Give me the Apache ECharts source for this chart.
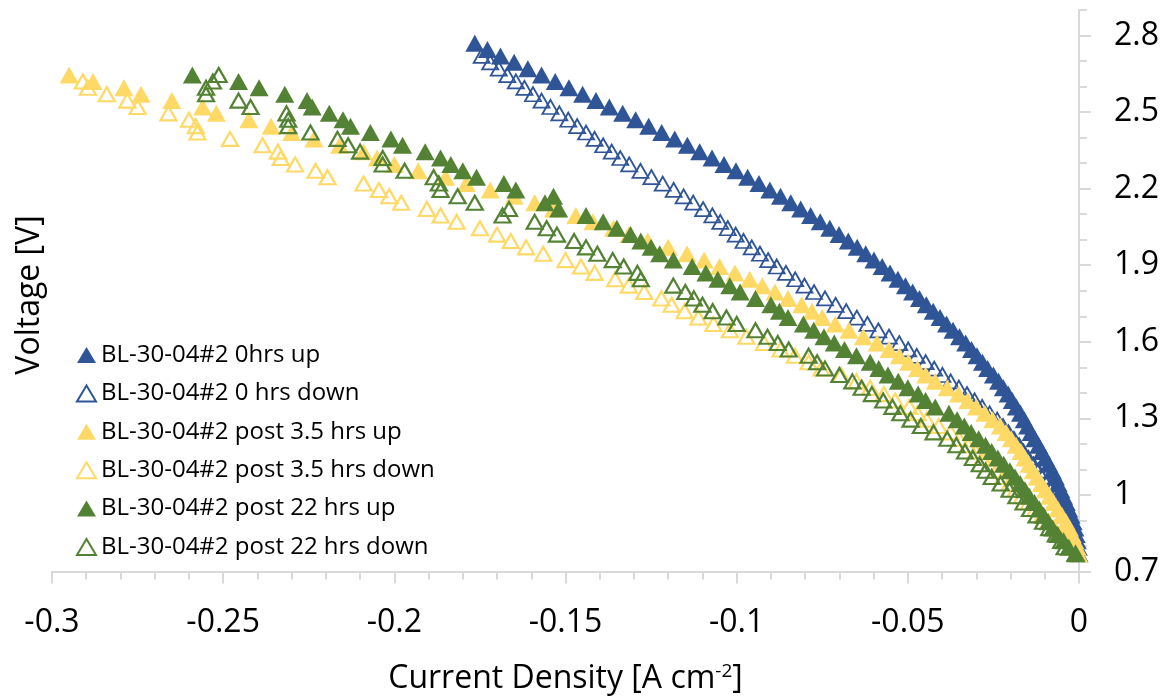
<!DOCTYPE html>
<html>
<head>
<meta charset="utf-8">
<script src="https://cdn.jsdelivr.net/npm/echarts@6.0.0/dist/echarts.min.js"></script>
<style>
html, body { margin: 0; padding: 0; background: #fff; }
#chart1 { width: 1169px; height: 700px; }
</style>
</head>
<body>
<div id="chart1"></div>
<script>
// voltage steps of the sweeps (V), shared by all series
var voltGrid = [0.770, 0.795, 0.820, 0.845, 0.870, 0.895, 0.920, 0.945, 0.970, 0.995,
	1.020, 1.045, 1.070, 1.095, 1.120, 1.145, 1.170, 1.195, 1.220, 1.245,
	1.270, 1.295, 1.320, 1.345, 1.370, 1.395, 1.420, 1.445, 1.470, 1.495,
	1.520, 1.545, 1.570, 1.595, 1.620, 1.645, 1.670, 1.695, 1.720, 1.745,
	1.770, 1.795, 1.820, 1.845, 1.870, 1.895, 1.920, 1.945, 1.970, 1.995,
	2.020, 2.045, 2.070, 2.095, 2.120, 2.145, 2.170, 2.195, 2.220, 2.245,
	2.270, 2.295, 2.320, 2.345, 2.370, 2.395, 2.420, 2.445, 2.470, 2.495,
	2.520, 2.545, 2.570, 2.595, 2.620, 2.645, 2.670, 2.695, 2.720, 2.745, 2.770];

// current density (A cm-2), one value per voltage step
var hr0Up = [-0.0000, -0.0002, -0.0005, -0.0008, -0.0012, -0.0017, -0.0023, -0.0030, -0.0037, -0.0045,
	-0.0053, -0.0061, -0.0069, -0.0078, -0.0088, -0.0098, -0.0108, -0.0118, -0.0129, -0.0140,
	-0.0150, -0.0160, -0.0171, -0.0183, -0.0195, -0.0207, -0.0221, -0.0235, -0.0250, -0.0267,
	-0.0282, -0.0298, -0.0314, -0.0331, -0.0349, -0.0368, -0.0387, -0.0406, -0.0426, -0.0446,
	-0.0466, -0.0486, -0.0507, -0.0529, -0.0552, -0.0575, -0.0599, -0.0623, -0.0648, -0.0674,
	-0.0701, -0.0728, -0.0756, -0.0784, -0.0813, -0.0842, -0.0872, -0.0903, -0.0935, -0.0968,
	-0.1002, -0.1037, -0.1072, -0.1108, -0.1144, -0.1181, -0.1219, -0.1257, -0.1295, -0.1333,
	-0.1372, -0.1411, -0.1450, -0.1490, -0.1530, -0.1570, -0.1610, -0.1650, -0.1690, -0.1728, -0.1765];

var hr0Down = [-0.0002, -0.0007, -0.0013, -0.0019, -0.0025, -0.0032, -0.0040, -0.0049, -0.0058, -0.0070,
	-0.0082, -0.0095, -0.0107, -0.0119, -0.0133, -0.0148, -0.0162, -0.0175, -0.0190, -0.0206,
	-0.0222, -0.0239, -0.0261, -0.0283, -0.0305, -0.0327, -0.0351, -0.0375, -0.0399, -0.0423,
	-0.0448, -0.0474, -0.0499, -0.0525, -0.0555, -0.0586, -0.0618, -0.0649, -0.0680, -0.0711,
	-0.0742, -0.0774, -0.0802, -0.0829, -0.0856, -0.0883, -0.0908, -0.0932, -0.0956, -0.0980,
	-0.1003, -0.1026, -0.1048, -0.1071, -0.1098, -0.1127, -0.1155, -0.1184, -0.1216, -0.1249,
	-0.1281, -0.1314, -0.1340, -0.1365, -0.1390, -0.1415, -0.1440, -0.1466, -0.1492, -0.1518,
	-0.1544, -0.1570, -0.1595, -0.1620, -0.1645, -0.1670, -0.1695, -0.1720, -0.1745];

var hr35Up = [-0.0001, -0.0005, -0.0012, -0.0020, -0.0028, -0.0038, -0.0050, -0.0062, -0.0074, -0.0086,
	-0.0098, -0.0110, -0.0122, -0.0134, -0.0146, -0.0158, -0.0170, -0.0184, -0.0198, -0.0213,
	-0.0230, -0.0252, -0.0275, -0.0300, -0.0325, -0.0352, -0.0385, -0.0420, -0.0448, -0.0472,
	-0.0498, -0.0525, -0.0555, -0.0590, -0.0630, -0.0672, -0.0712, -0.0750, -0.0780, -0.0810,
	-0.0850, -0.0888, -0.0925, -0.0962, -0.1005, -0.1050, -0.1095, -0.1145, -0.1200, -0.1260,
	-0.1315, -0.1360, -0.1420, -0.1470, -0.1535, -0.1590, -0.1650, -0.1720, -0.1790, -0.1850,
	-0.1930, -0.2000, -0.2050, -0.2090, -0.2160, -0.2235, -0.2300, -0.2360, -0.2425, -0.2520,
	-0.2560, -0.2650, -0.2740, -0.2790, -0.2880, -0.2950];

var hr35Down = [-0.0010, -0.0025, -0.0040, -0.0055, -0.0072, -0.0090, -0.0108, -0.0127, -0.0147, -0.0167,
	-0.0185, -0.0203, -0.0222, -0.0242, -0.0262, -0.0282, -0.0302, -0.0325, -0.0350, -0.0375,
	-0.0410, -0.0445, -0.0472, -0.0496, -0.0537, -0.0570, -0.0610, -0.0650, -0.0695, -0.0752,
	-0.0790, -0.0830, -0.0872, -0.0920, -0.0972, -0.1020, -0.1068, -0.1112, -0.1152, -0.1190,
	-0.1220, -0.1270, -0.1315, -0.1355, -0.1415, -0.1455, -0.1500, -0.1565, -0.1615, -0.1660,
	-0.1700, -0.1750, -0.1818, -0.1865, -0.1905, -0.1980, -0.2015, -0.2045, -0.2090, -0.2195,
	-0.2230, -0.2290, -0.2332, -0.2340, -0.2385, -0.2480, -0.2575, -0.2580, -0.2600, -0.2660,
	-0.2750, -0.2780, -0.2840, -0.2895, -0.2910];

var hr22Up = [-0.0010, -0.0030, -0.0045, -0.0062, -0.0077, -0.0090, -0.0103, -0.0116, -0.0130, -0.0145,
	-0.0158, -0.0172, -0.0187, -0.0202, -0.0220, -0.0237, -0.0255, -0.0273, -0.0293, -0.0315,
	-0.0335, -0.0356, -0.0380, -0.0420, -0.0448, -0.0470, -0.0500, -0.0528, -0.0558, -0.0585,
	-0.0610, -0.0650, -0.0685, -0.0715, -0.0745, -0.0775, -0.0805, -0.0850, -0.0875, -0.0900,
	-0.0945, -0.0990, -0.1020, -0.1055, -0.1090, -0.1130, -0.1185, -0.1225, -0.1250, -0.1280,
	-0.1310, -0.1350, -0.1390, -0.1440, -0.1520, -0.1560, -0.1535, -0.1645, -0.1680, -0.1760,
	-0.1800, -0.1835, -0.1865, -0.1910, -0.1976, -0.2010, -0.2070, -0.2128, -0.2150, -0.2190,
	-0.2240, -0.2255, -0.2320, -0.2395, -0.2455, -0.2590];

var hr22Down = [-0.0010, -0.0042, -0.0052, -0.0068, -0.0087, -0.0105, -0.0124, -0.0143, -0.0162, -0.0183,
	-0.0203, -0.0229, -0.0255, -0.0273, -0.0290, -0.0310, -0.0333, -0.0358, -0.0385, -0.0425,
	-0.0462, -0.0492, -0.0522, -0.0545, -0.0572, -0.0605, -0.0635, -0.0662, -0.0700, -0.0742,
	-0.0765, -0.0790, -0.0848, -0.0880, -0.0910, -0.0945, -0.1000, -0.1030, -0.1070, -0.1100,
	-0.1125, -0.1150, -0.1185, -0.1280, -0.1290, -0.1330, -0.1362, -0.1407, -0.1440, -0.1475,
	-0.1525, -0.1555, -0.1590, -0.1684, -0.1665, -0.1765, -0.1815, -0.1865, -0.1870, -0.1885,
	-0.1970, -0.2034, -0.2034, -0.2100, -0.2135, -0.2166, -0.2245, -0.2310, -0.2310, -0.2315,
	-0.2420, -0.2455, -0.2550, -0.2550, -0.2530, -0.2513];

var seriesNames = ['BL-30-04#2 0hrs up', 'BL-30-04#2 0 hrs down', 'BL-30-04#2 post 3.5 hrs up',
	'BL-30-04#2 post 3.5 hrs down', 'BL-30-04#2 post 22 hrs up', 'BL-30-04#2 post 22 hrs down'];
var seriesCurrents = [hr0Up, hr0Down, hr35Up, hr35Down, hr22Up, hr22Down];
var seriesColors = ['#2F5597', '#2F5597', '#FFD966', '#FFD966', '#548235', '#548235'];
var seriesHollow = [false, true, false, true, false, true];

var xTickLabels = [-0.3, -0.25, -0.2, -0.15, -0.1, -0.05, 0];
var yTickLabels = [0.7, 1, 1.3, 1.6, 1.9, 2.2, 2.5, 2.8];

var fontName = '"Open Sans", "Noto Sans", sans-serif';

initScatter('chart1');

function buildPoints(currents){
	var pts = [];
	for (var k = 0; k < currents.length; k++) {
		pts.push([currents[k], voltGrid[k]]);
	}
	return pts;
}

function initScatter(elem){
	var myChart = echarts.init(document.getElementById(elem));
	var series = [];
	for (var i = 0; i < seriesNames.length; i++) {
		var hollow = seriesHollow[i];
		series.push({
			name: seriesNames[i],
			type: 'scatter',
			symbol: 'triangle',
			symbolSize: hollow ? [16, 14] : [19, 17],
			data: buildPoints(seriesCurrents[i]),
			itemStyle: hollow ? {
				color: 'rgba(255,255,255,0)',
				borderColor: seriesColors[i],
				borderWidth: i == 1 ? 1.8 : 2.2,
				opacity: 1
			} : {
				color: seriesColors[i],
				opacity: 1
			},
			emphasis: { disabled: true }
		});
	}

	var axisGray = '#D9D9D9';
	var option = {
		animation: false,
		backgroundColor: '#fff',
		grid: { left: 52, right: 90, top: 10, bottom: 120, containLabel: false },
		legend: {
			orient: 'vertical',
			left: 71,
			top: 338,
			itemWidth: 19,
			itemHeight: 16,
			itemGap: 14.4,
			icon: 'triangle',
			data: seriesNames,
			textStyle: { fontSize: 24, lineHeight: 24, color: '#000', fontFamily: fontName },
			selectedMode: false
		},
		xAxis: {
			type: 'value',
			min: -0.3,
			max: 0,
			interval: 0.05,
			name: 'Current Density [A cm{sup|-2}]',
			nameLocation: 'middle',
			nameGap: 91,
			nameTextStyle: {
				fontSize: 32, color: '#000', fontFamily: fontName,
				rich: { sup: { fontSize: 19, color: '#000', fontFamily: fontName, padding: [0, 0, 14, 0] } }
			},
			axisLine: { show: true, onZero: false, lineStyle: { color: axisGray, width: 2 } },
			axisTick: { show: true, length: 12, lineStyle: { color: axisGray, width: 2 } },
			minorTick: { show: true, splitNumber: 5, length: 8, lineStyle: { color: axisGray, width: 2 } },
			axisLabel: { fontSize: 32, color: '#000', margin: 35, fontFamily: fontName, customValues: xTickLabels },
			splitLine: { show: false },
			minorSplitLine: { show: false }
		},
		yAxis: [{
			type: 'value',
			position: 'right',
			min: 0.7,
			max: 2.9,
			interval: 0.1,
			axisLine: { show: true, onZero: false, lineStyle: { color: axisGray, width: 2 } },
			axisTick: { show: true, length: 8, lineStyle: { color: axisGray, width: 2 } },
			axisLabel: { fontSize: 32, color: '#000', margin: 35, fontFamily: fontName, customValues: yTickLabels },
			splitLine: { show: false }
		}, {
			type: 'value',
			position: 'right',
			offset: 0,
			min: 0.7,
			max: 2.9,
			axisLine: { show: false },
			axisTick: { show: true, length: 12, customValues: yTickLabels, lineStyle: { color: axisGray, width: 2 } },
			axisLabel: { show: false },
			splitLine: { show: false }
		}],
		graphic: [{
			type: 'text',
			x: 30,
			y: 295,
			rotation: Math.PI / 2,
			style: {
				text: 'Voltage [V]',
				fontSize: 32,
				fontFamily: fontName,
				fill: '#000',
				align: 'center',
				verticalAlign: 'middle'
			}
		}],
		series: series
	};
	myChart.setOption(option);
}
</script>
</body>
</html>
